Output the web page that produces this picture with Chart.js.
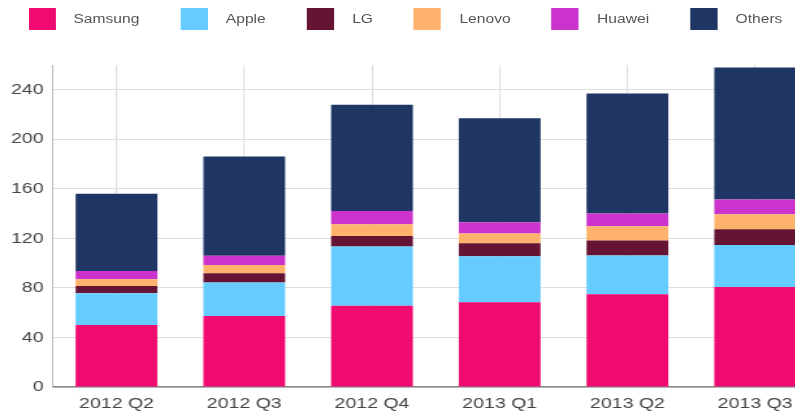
<!DOCTYPE html>
<html>
<head>
<meta charset="utf-8">
<script src="https://cdn.jsdelivr.net/npm/chart.js@4/dist/chart.umd.min.js"></script>
<style>
  html, body { margin: 0; padding: 0; background: #fff; overflow: hidden; }
  #wrap {
    position: relative;
    width: 640px;
    height: 414px;
    transform: scaleX(1.3);
    transform-origin: 0 0;
  }
  #chart { position: absolute; left: 0; top: 0; }
  #legend {
    position: absolute;
    left: 21.5px;
    top: 8px;
    display: flex;
    gap: 31.5px;
    font: 12px "Liberation Sans", Arial, sans-serif;
    color: #555;
  }
  .item { display: flex; align-items: center; height: 22px; }
  .box { width: 21px; height: 22px; margin-right: 14px; }
</style>
</head>
<body>
<div id="wrap">
  <canvas id="chart" width="640" height="414"></canvas>
  <div id="legend"></div>
</div>
<script>
const quarters = ["2012 Q2", "2012 Q3", "2012 Q4", "2013 Q1", "2013 Q2", "2013 Q3"];
const vendors = ["Samsung", "Apple", "LG", "Lenovo", "Huawei", "Others"];
const samsung = [50.1, 57.4, 65.7, 68.4, 74.9, 80.8];
const apple = [25.6, 26.9, 47.7, 37.2, 31.2, 33.9];
const lg = [5.9, 7.6, 8.6, 10.5, 12.1, 12.7];
const lenovo = [5.4, 6.7, 9.4, 7.8, 11.6, 12.1];
const huawei = [6.7, 7.3, 10.8, 9.2, 10.3, 11.9];
const others = [62.3, 80.2, 85.7, 84.0, 96.9, 106.6];
const colors = ["#ef0b6f", "#66ccff", "#661434", "#feb26c", "#cc33cc", "#1f3564"];

const series = [samsung, apple, lg, lenovo, huawei, others];

const ctx = document.getElementById("chart").getContext("2d");
const chart = new Chart(ctx, {
  type: "bar",
  data: {
    labels: quarters,
    datasets: vendors.map((name, i) => ({
      label: name,
      data: series[i],
      backgroundColor: colors[i],
      borderWidth: 0,
      barPercentage: 0.8,
      categoryPercentage: 0.8,
    })),
  },
  options: {
    responsive: false,
    animation: false,
    layout: { padding: { left: 0, right: 10, top: 65, bottom: 1 } },
    plugins: {
      legend: { display: false },
      tooltip: { enabled: false },
    },
    scales: {
      x: {
        stacked: true,
        afterFit: (scale) => {
          scale.height = 26; // keep the axis close to the bottom edge
        },
        grid: { offset: false, color: "#dddddd", drawTicks: false },
        border: { color: "#888888", width: 1.5 },
        ticks: {
          padding: 8,
          color: "#444",
          font: { family: "'Liberation Sans', Arial, sans-serif", size: 15 },
        },
      },
      y: {
        stacked: true,
        min: 0,
        max: 260,
        afterBuildTicks: (scale) => {
          scale.ticks = scale.ticks.filter((t) => t.value % 40 === 0);
        },
        afterFit: (scale) => {
          scale.width = 40.5;
        },
        grid: { color: "#dddddd", drawTicks: false },
        border: { color: "#bbbbbb" },
        ticks: {
          stepSize: 40,
          padding: 7,
          color: "#444",
          font: { family: "'Liberation Sans', Arial, sans-serif", size: 15 },
        },
      },
    },
  },
});

// html legend built from the chart's datasets
const legendEl = document.getElementById("legend");
chart.data.datasets.forEach((ds) => {
  const item = document.createElement("div");
  item.className = "item";
  const box = document.createElement("span");
  box.className = "box";
  box.style.background = ds.backgroundColor;
  const text = document.createElement("span");
  text.textContent = ds.label;
  item.appendChild(box);
  item.appendChild(text);
  legendEl.appendChild(item);
});
</script>
</body>
</html>
